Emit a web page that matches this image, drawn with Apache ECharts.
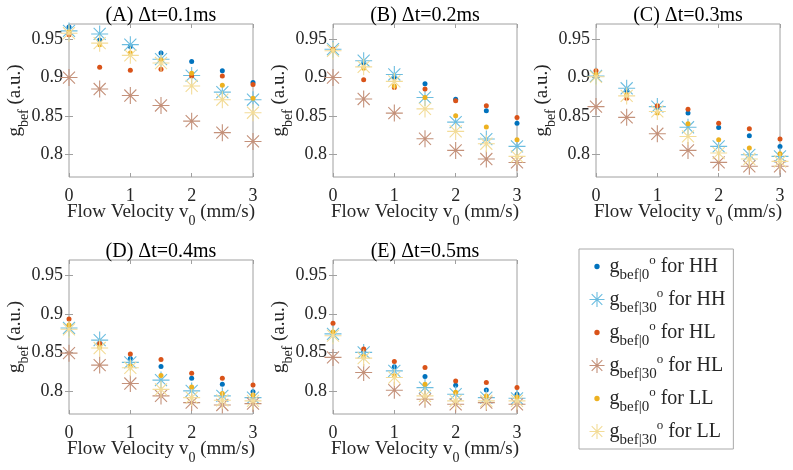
<!DOCTYPE html>
<html>
<head>
<meta charset="utf-8">
<script src="https://cdn.jsdelivr.net/npm/echarts@6/dist/echarts.min.js"></script>
<style>
  html, body { margin: 0; background: #fff; }
  #chart { width: 793px; height: 470px; }
</style>
</head>
<body>
<div id="chart"></div>
<script>
var velocity = [0, 0.5, 1, 1.5, 2, 2.5, 3];
var panelTitles = ['(A) Δt=0.1ms', '(B) Δt=0.2ms', '(C) Δt=0.3ms', '(D) Δt=0.4ms', '(E) Δt=0.5ms'];
var yTicks = [0.8, 0.85, 0.9, 0.95];

// one row per panel (A..E), one value per velocity
var hh0 = [
  [0.966, 0.949, 0.9405, 0.932, 0.921, 0.909, 0.8935],
  [0.937, 0.919, 0.9005, 0.892, 0.8717, 0.8565, 0.8404],
  [0.903, 0.883, 0.861, 0.8535, 0.8348, 0.8239, 0.81],
  [0.8817, 0.86, 0.842, 0.8317, 0.8165, 0.8087, 0.799],
  [0.874, 0.8513, 0.8313, 0.8187, 0.8074, 0.8013, 0.7957]
];
var hh30 = [
  [0.961, 0.957, 0.943, 0.924, 0.9026, 0.881, 0.871],
  [0.937, 0.922, 0.904, 0.874, 0.8417, 0.8196, 0.81],
  [0.902, 0.886, 0.862, 0.835, 0.81, 0.799, 0.797],
  [0.8817, 0.866, 0.837, 0.814, 0.8, 0.7935, 0.7913],
  [0.874, 0.85, 0.826, 0.8043, 0.7957, 0.7913, 0.7904]
];
var hl0 = [
  [0.956, 0.9135, 0.9096, 0.911, 0.902, 0.902, 0.891],
  [0.937, 0.897, 0.887, 0.885, 0.8696, 0.863, 0.8478],
  [0.909, 0.873, 0.863, 0.8587, 0.8404, 0.833, 0.8196],
  [0.8935, 0.8617, 0.8478, 0.8409, 0.823, 0.8165, 0.8078],
  [0.8878, 0.8543, 0.8383, 0.8304, 0.813, 0.8109, 0.8043]
];
var hl30 = [
  [0.9, 0.885, 0.8765, 0.8635, 0.843, 0.828, 0.8165],
  [0.9, 0.872, 0.8535, 0.82, 0.8048, 0.7935, 0.789],
  [0.862, 0.848, 0.8265, 0.8048, 0.7891, 0.784, 0.784],
  [0.849, 0.8335, 0.8096, 0.7935, 0.7848, 0.7817, 0.7835],
  [0.8435, 0.8239, 0.8009, 0.7891, 0.7826, 0.7848, 0.7826]
];
var ll0 = [
  [0.9596, 0.943, 0.932, 0.923, 0.9056, 0.89, 0.873],
  [0.936, 0.912, 0.889, 0.874, 0.85, 0.8352, 0.8187],
  [0.904, 0.8774, 0.8535, 0.8396, 0.8187, 0.8078, 0.8004],
  [0.8857, 0.857, 0.832, 0.82, 0.805, 0.7965, 0.7948],
  [0.8765, 0.8448, 0.8196, 0.8087, 0.7983, 0.7935, 0.7922]
];
var ll30 = [
  [0.958, 0.945, 0.929, 0.919, 0.889, 0.871, 0.854],
  [0.935, 0.914, 0.895, 0.859, 0.8296, 0.8135, 0.797],
  [0.901, 0.876, 0.8557, 0.823, 0.8013, 0.7935, 0.7904],
  [0.88, 0.8557, 0.83, 0.802, 0.7913, 0.7878, 0.787],
  [0.8717, 0.8426, 0.8174, 0.7935, 0.787, 0.787, 0.787]
];

var FONT = 'Liberation Serif';
var FRAME = '#a0a0a0';
var TXT = '#262626';

var dotIcon = 'path://M0 0L0.01 0M14 14L14.01 14M7 4.5A2.5 2.5 0 1 1 7 9.5A2.5 2.5 0 1 1 7 4.5Z';
var starIcon = 'path://M0 5L10 5M5 0L5 10M1.46 1.46L8.54 8.54M1.46 8.54L8.54 1.46';

var groups = [
  { key: 'hh0', data: hh0, star: false, color: '#0072BD', label: '{g|g}{sub|bef|0}{sup|o}{t| for HH}' },
  { key: 'hh30', data: hh30, star: true, color: '#6CBDE0', label: '{g|g}{sub|bef|30}{sup|o}{t| for HH}' },
  { key: 'hl0', data: hl0, star: false, color: '#D95319', label: '{g|g}{sub|bef|0}{sup|o}{t| for HL}' },
  { key: 'hl30', data: hl30, star: true, color: '#C4917A', label: '{g|g}{sub|bef|30}{sup|o}{t| for HL}' },
  { key: 'll0', data: ll0, star: false, color: '#EDB120', label: '{g|g}{sub|bef|0}{sup|o}{t| for LL}' },
  { key: 'll30', data: ll30, star: true, color: '#F3DC98', label: '{g|g}{sub|bef|30}{sup|o}{t| for LL}' }
];

var gridLeft = [69, 333, 596, 69, 333];
var gridTop = [24, 24, 24, 260, 260];
var gridHeight = [153, 153, 153, 154, 154];

var nameRich = {
  t: { fontFamily: FONT, fontSize: 19, lineHeight: 24, color: TXT },
  sub: { fontFamily: FONT, fontSize: 14, lineHeight: 24, color: TXT, padding: [18, 0, 0, 0] }
};

var grids = [], xAxes = [], yAxes = [], series = [];
panelTitles.forEach(function (title, i) {
  grids.push({
    left: gridLeft[i], top: gridTop[i], width: 184, height: gridHeight[i],
    show: true, borderColor: FRAME, borderWidth: 1, outerBoundsMode: 'none'
  });
  var tick = { show: true, inside: true, length: 4, lineStyle: { color: FRAME, width: 1 } };
  xAxes.push({
    type: 'value', gridIndex: i, min: 0, max: 3, interval: 1, position: 'bottom',
    axisLine: { show: false }, axisTick: tick, splitLine: { show: false },
    axisLabel: { margin: 10, fontFamily: FONT, fontSize: 18, color: TXT },
    name: '{t|Flow Velocity v}{sub|0}{t| (mm/s)}', nameLocation: 'middle', nameGap: 23,
    nameMoveOverlap: false,
    nameTextStyle: { fontFamily: FONT, fontSize: 19, color: TXT, rich: nameRich }
  });
  xAxes.push({
    type: 'value', gridIndex: i, min: 0, max: 3, interval: 1, position: 'top',
    axisLine: { show: false }, axisTick: tick, splitLine: { show: false },
    axisLabel: { show: false },
    name: title, nameLocation: 'middle', nameGap: -2, nameMoveOverlap: false,
    nameTextStyle: { fontFamily: FONT, fontSize: 20, color: '#000' }
  });
  yAxes.push({
    type: 'value', gridIndex: i, min: 0.77, max: 0.97, position: 'left',
    axisLine: { show: false }, splitLine: { show: false },
    axisTick: Object.assign({ customValues: yTicks }, tick),
    axisLabel: { customValues: yTicks, margin: 6, fontFamily: FONT, fontSize: 18, color: TXT },
    name: '{t|g}{sub|bef}{t| (a.u.)}', nameLocation: 'middle', nameGap: 42,
    nameMoveOverlap: false,
    nameTextStyle: { fontFamily: FONT, fontSize: 19, color: TXT, rich: nameRich }
  });
  yAxes.push({
    type: 'value', gridIndex: i, min: 0.77, max: 0.97, position: 'right',
    axisLine: { show: false }, splitLine: { show: false },
    axisTick: Object.assign({ customValues: yTicks }, tick),
    axisLabel: { show: false }
  });
  groups.forEach(function (g) {
    series.push({
      type: 'scatter', name: g.key,
      xAxisIndex: 2 * i, yAxisIndex: 2 * i,
      data: velocity.map(function (v, k) { return [v, g.data[i][k]]; }),
      symbol: g.star ? starIcon : 'circle',
      symbolSize: g.star ? 17 : 5,
      itemStyle: g.star
        ? { color: 'none', borderColor: g.color, borderWidth: 1.1, opacity: 1 }
        : { color: g.color, borderWidth: 0, opacity: 1 },
      clip: false, silent: true,
      emphasis: { disabled: true }
    });
  });
});

var legendLabels = {};
groups.forEach(function (g) { legendLabels[g.key] = g.label; });

var option = {
  backgroundColor: '#fff',
  animation: false,
  grid: grids,
  xAxis: xAxes,
  yAxis: yAxes,
  legend: {
    orient: 'vertical', left: 579, top: 249,
    padding: [1, 8, 1, 8], itemGap: 0, itemWidth: 15, itemHeight: 15,
    borderColor: '#aaa', borderWidth: 1, backgroundColor: '#fff',
    selectedMode: false,
    data: groups.map(function (g) {
      return {
        name: g.key,
        icon: g.star ? starIcon : dotIcon,
        itemStyle: g.star
          ? { color: 'none', borderColor: g.color, borderWidth: 1.1 }
          : { color: g.color, borderWidth: 0 }
      };
    }),
    formatter: function (name) { return legendLabels[name]; },
    textStyle: {
      fontFamily: FONT, fontSize: 20, color: TXT,
      rich: {
        g: { fontFamily: FONT, fontSize: 20, lineHeight: 24, color: TXT },
        t: { fontFamily: FONT, fontSize: 20, lineHeight: 24, color: TXT },
        sub: { fontFamily: FONT, fontSize: 15, lineHeight: 24, color: TXT, padding: [18, 0, 0, 0] },
        sup: { fontFamily: FONT, fontSize: 13, lineHeight: 24, color: TXT, padding: [0, 0, 12, 0] }
      }
    }
  },
  series: series
};

var myChart = echarts.init(document.getElementById('chart'));
myChart.setOption(option);
</script>
</body>
</html>
